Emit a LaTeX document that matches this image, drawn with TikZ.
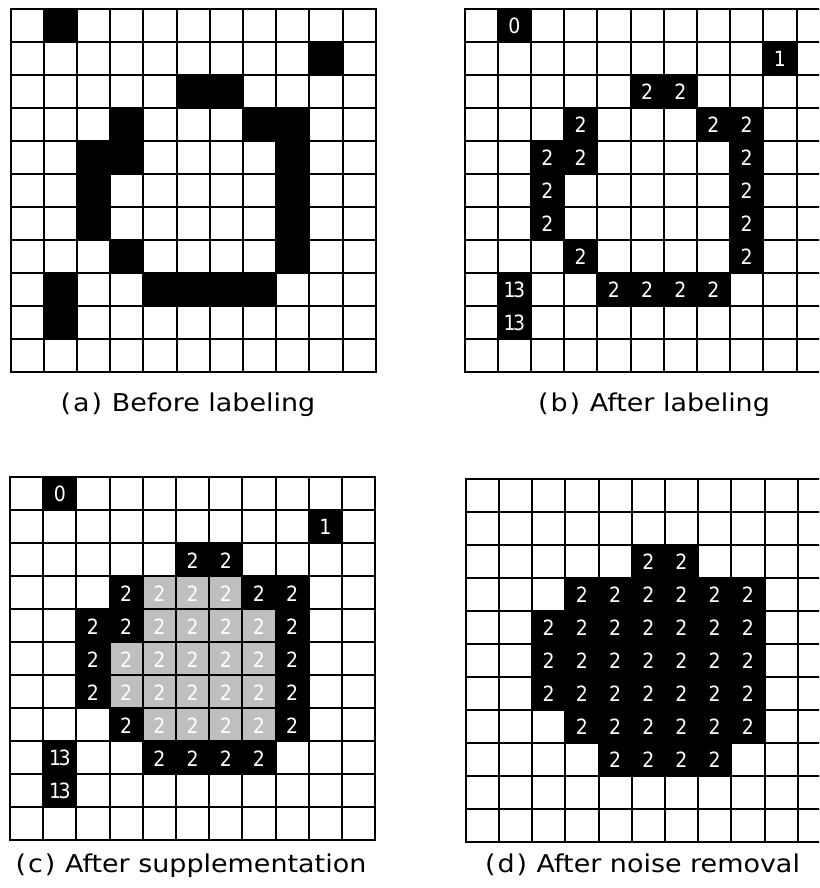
\documentclass[tikz,border=0pt]{standalone}
\usepackage{fontspec}
\newfontfamily\capfont[FakeStretch=1.1]{DejaVu Sans}
\newfontfamily\digfont[FakeStretch=0.9]{DejaVu Sans}
\definecolor{cellgray}{RGB}{191,191,191}
\newcommand{\cw}{33.2}
\newcommand{\ch}{33}
\newcommand{\tth}{1\kern-2.5pt 3}
\newcommand{\pgrid}[2]{%
  \foreach \i in {0,...,11}{%
    \draw[gridline] ({#1+\i*\cw},#2) -- ({#1+\i*\cw},{#2+11*\ch});
    \draw[gridline] (#1,{#2+\i*\ch}) -- ({#1+11*\cw},{#2+\i*\ch});
  }}
\newcommand{\pcells}[4]{% x0, y0, style, list r/c/text
  \foreach \r/\c/\t in {#4}{%
    \fill[#3] ({#1+\c*\cw},{#2+\r*\ch}) rectangle ++(\cw,\ch);
    \node[celltext] (n-#1-\r-\c) at ({#1+\c*\cw+0.5*\cw},{#2+\r*\ch+0.5*\ch+0.5}) {\t};
  }}
\newcommand{\prawcells}[3]{%
  \foreach \r/\c in {#3}{%
    \fill[black] ({#1+\c*\cw},{#2+\r*\ch}) rectangle ++(\cw,\ch);
  }}
\begin{document}
\begin{tikzpicture}[x=1pt,y=-1pt,
  gridline/.style={line width=2pt,black,line cap=rect},
  celltext/.style={text=white,font=\digfont\fontsize{21}{21}\selectfont,inner sep=0pt},
  captext/.style={font=\capfont\fontsize{24.5}{28}\selectfont,inner sep=0pt,anchor=base}]
\clip (0,0) rectangle (819,888);
\fill[white] (0,0) rectangle (819,888);

% (a)
\prawcells{10.5}{8.7}{0/1,1/9,2/5,2/6,3/3,3/7,3/8,4/2,4/3,4/8,5/2,5/8,6/2,6/8,7/3,7/8,8/1,8/4,8/5,8/6,8/7,9/1}
\pgrid{10.5}{8.7}
\node[captext] (capa) at (188,411) {(\kern2pt a\kern2pt)\kern1pt{} Before labeling};

% (b)
\pcells{464.5}{8.7}{black}{0/1/0,1/9/1,2/5/2,2/6/2,3/3/2,3/7/2,3/8/2,4/2/2,4/3/2,4/8/2,5/2/2,5/8/2,6/2/2,6/8/2,7/3/2,7/8/2,8/1/\tth,8/4/2,8/5/2,8/6/2,8/7/2,9/1/\tth}
\pgrid{464.5}{8.7}
\node[captext] (capb) at (654,411) {(\kern2pt b\kern2pt)\kern1pt{} After labeling};

% (c)
\pcells{10}{477.3}{black}{0/1/0,1/9/1,2/5/2,2/6/2,3/3/2,3/7/2,3/8/2,4/2/2,4/3/2,4/8/2,5/2/2,5/8/2,6/2/2,6/8/2,7/3/2,7/8/2,8/1/\tth,8/4/2,8/5/2,8/6/2,8/7/2,9/1/\tth}
\pcells{10}{477.3}{cellgray}{3/4/2,3/5/2,3/6/2,4/4/2,4/5/2,4/6/2,4/7/2,5/3/2,5/4/2,5/5/2,5/6/2,5/7/2,6/3/2,6/4/2,6/5/2,6/6/2,6/7/2,7/4/2,7/5/2,7/6/2,7/7/2}
\pgrid{10}{477.3}
\node[captext] (capc) at (191,872) {(\kern2pt c\kern2pt)\kern1pt{} After supplementation};

% (d)
\pcells{465.7}{479}{black}{2/5/2,2/6/2,3/3/2,3/4/2,3/5/2,3/6/2,3/7/2,3/8/2,4/2/2,4/3/2,4/4/2,4/5/2,4/6/2,4/7/2,4/8/2,5/2/2,5/3/2,5/4/2,5/5/2,5/6/2,5/7/2,5/8/2,6/2/2,6/3/2,6/4/2,6/5/2,6/6/2,6/7/2,6/8/2,7/3/2,7/4/2,7/5/2,7/6/2,7/7/2,7/8/2,8/4/2,8/5/2,8/6/2,8/7/2}
\pgrid{465.7}{479}
\node[captext] (capd) at (642.5,872) {(\kern2pt d\kern2pt)\kern1pt{} After noise removal};
\end{tikzpicture}
\end{document}
